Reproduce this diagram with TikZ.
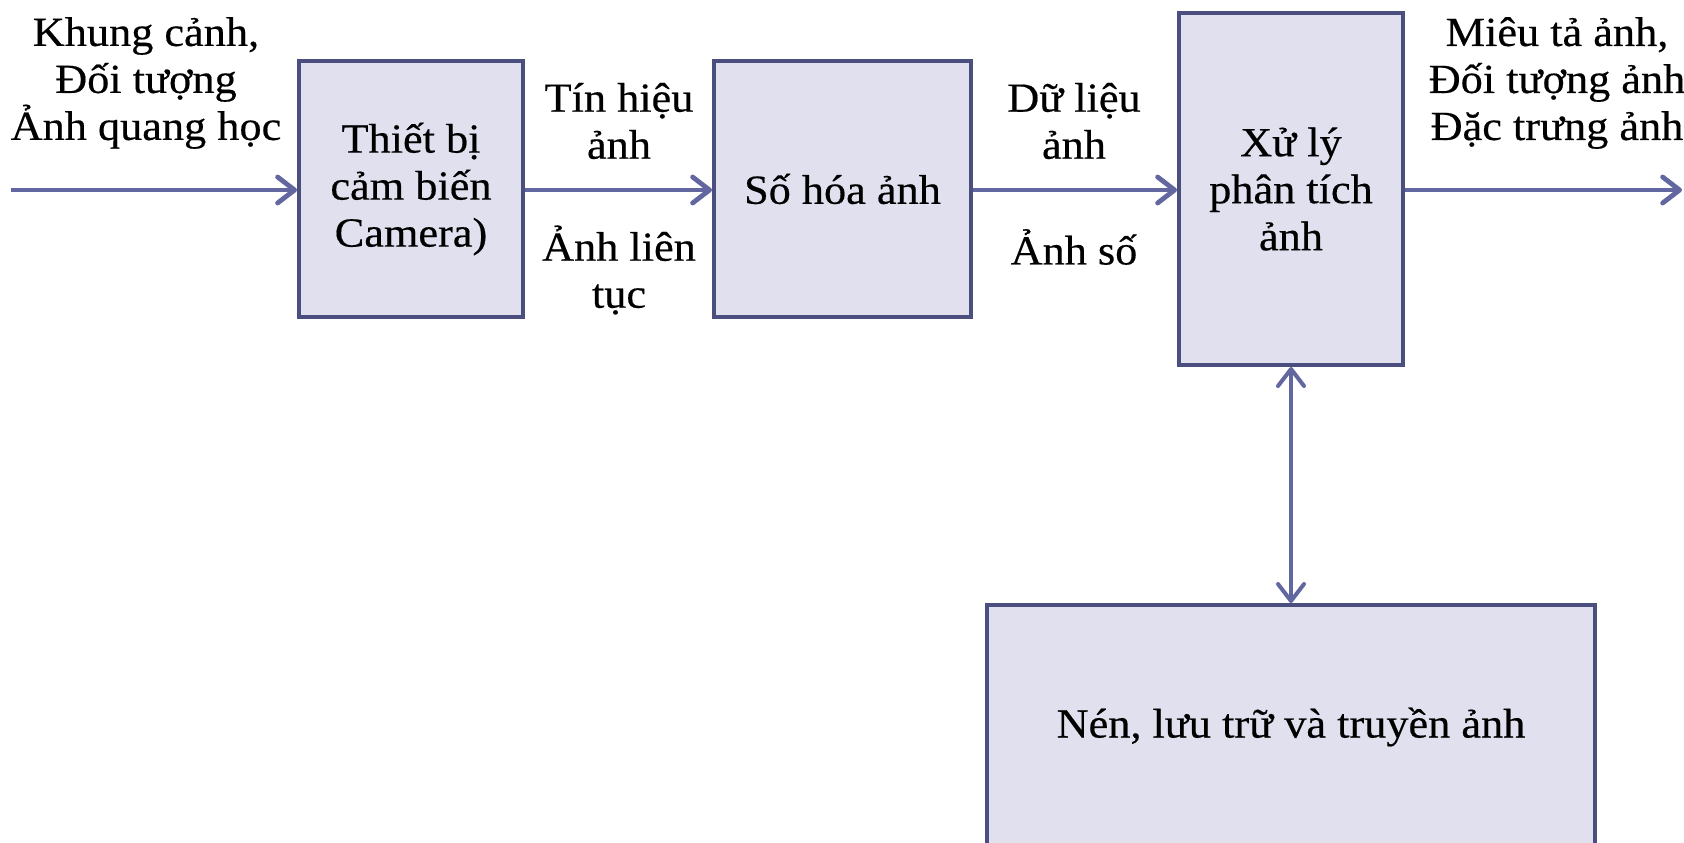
\documentclass[tikz,border=0pt]{standalone}
\usepackage{fontspec}
\setmainfont{Liberation Serif}[FakeStretch=1.07,FakeBold=0.4]
\usetikzlibrary{arrows.meta}
\definecolor{boxfill}{HTML}{E0E0EE}
\definecolor{boxline}{HTML}{4B4F7F}
\definecolor{arrowcol}{HTML}{6267A0}
\tikzset{
  stage/.style={draw=boxline, fill=boxfill, line width=2pt, align=center,
    inner sep=0pt, font=\fontsize{20.7}{23.5}\selectfont},
  lbl/.style={align=center, inner sep=0pt, font=\fontsize{20.7}{23.5}\selectfont},
  barb/.tip={Straight Barb[length=8.5pt,width=13pt,line cap=round,line join=round]},
  flow/.style={draw=arrowcol, line width=2.4pt, -barb},
  bothway/.style={draw=arrowcol, line width=2pt, barb-barb}
}
\begin{document}
\begin{tikzpicture}[x=0.5pt,y=-0.5pt]
\useasboundingbox (0,0) rectangle (1684,842);

% processing stages
\node[stage, minimum width=112pt, minimum height=128pt] (sensor) at (411,189)
  {Thiết bị\\cảm biến\\Camera)};
\node[stage, minimum width=128.5pt, minimum height=128pt] (digit) at (842.5,189)
  {Số hóa ảnh};
\node[stage, minimum width=112pt, minimum height=176pt] (analyse) at (1291,189)
  {Xử lý\\phân tích\\ảnh};
\node[stage, minimum width=304pt, minimum height=122pt] (store) at (1291,727)
  {Nén, lưu trữ và truyền ảnh};

% free ends of the input and output lines
\coordinate (in) at (11,190);
\coordinate (out) at (1682,190);

% signal flow
\draw[flow] (in) -- (in -| sensor.west);
\draw[flow] (sensor.east |- in) -- (digit.west |- in);
\draw[flow] (digit.east |- in) -- (analyse.west |- in);
\draw[flow] (analyse.east |- in) -- (out);
\draw[bothway] (analyse.south) -- (store.north);

% labels along the flow
\node[lbl] (scene) at (146,83) {Khung cảnh,\\Đối tượng\\Ảnh quang học};
\node[lbl] (sig) at (619,121) {Tín hiệu\\ảnh};
\node[lbl] (cont) at (619,270) {Ảnh liên\\tục};
\node[lbl] (data) at (1074,121) {Dữ liệu\\ảnh};
\node[lbl] (dig) at (1074,247) {Ảnh số};
\node[lbl] (desc) at (1557,83) {Miêu tả ảnh,\\Đối tượng ảnh\\Đặc trưng ảnh};
\end{tikzpicture}
\end{document}
